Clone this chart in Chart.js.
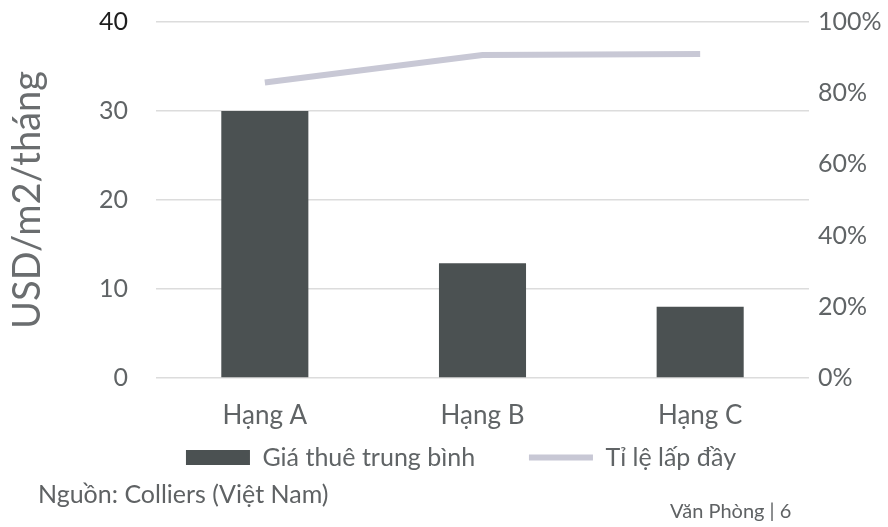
<!DOCTYPE html>
<html>
<head>
<meta charset="utf-8">
<script src="https://cdn.jsdelivr.net/npm/chart.js@4.4.0/dist/chart.umd.min.js"></script>
<style>
  html, body { margin: 0; padding: 0; background: #fff; }
  #wrap { position: relative; width: 888px; height: 527px; }
  .note { position: absolute; font-family: Lato, sans-serif; color: #5f6264; white-space: nowrap; }
  #source { left: 38px; top: 478px; font-size: 25px; }
  #page { left: 670px; top: 498px; font-size: 20px; }
</style>
</head>
<body>
<div id="wrap">
  <canvas id="officeChart" width="888" height="527"></canvas>
  <div class="note" id="source">Nguồn: Colliers (Việt Nam)</div>
  <div class="note" id="page">Văn Phòng | 6</div>
</div>
<script>
// Office market: average rent and occupancy by grade
const grades = ["Hạng A", "Hạng B", "Hạng C"];
const avgRent = [30, 12.9, 8];           // USD/m2/tháng
const occupancy = [0.83, 0.907, 0.91];   // share of floor space leased
const rentTicks = [0, 10, 20, 30, 40];
const occTicks = [0, 0.2, 0.4, 0.6, 0.8, 1];

const fontFamily = "Lato, sans-serif";
const textGrey = "#606466";
const leftPad = 34;

// keep the plot area flush with the layout padding
const noEdgePadding = (scale) => {
    scale.paddingTop = 0;
    scale.paddingBottom = 0;
};

const ctx = document.getElementById("officeChart").getContext("2d");
new Chart(ctx, {
    type: "bar",
    data: {
        labels: grades,
        datasets: [
            {
                type: "line",
                label: "Tỉ lệ lấp đầy",
                data: occupancy,
                yAxisID: "y1",
                borderColor: "#c8c8d5",
                backgroundColor: "#c8c8d5",
                borderWidth: 6,
                pointRadius: 0,
                pointStyle: "line",
                tension: 0,
                order: 1,
            },
            {
                label: "Giá thuê trung bình",
                data: avgRent,
                yAxisID: "y",
                backgroundColor: "#4b5152",
                borderWidth: 0,
                pointStyle: "rect",
                barPercentage: 0.8,
                categoryPercentage: 0.5,
                order: 2,
            },
        ],
    },
    options: {
        responsive: false,
        animation: false,
        layout: {
            padding: { top: 22, right: 0, bottom: 47, left: leftPad },
        },
        scales: {
            x: {
                grid: { display: false },
                border: { display: false },
                ticks: {
                    color: textGrey,
                    font: { family: fontFamily, size: 26 },
                    padding: 14,
                },
                afterFit: (scale) => {
                    scale.height = 58;
                },
            },
            y: {
                position: "left",
                min: 0,
                max: 40,
                afterBuildTicks: (scale) => {
                    scale.ticks = rentTicks.map((v) => ({ value: v }));
                },
                grid: { color: "#dcdcdc", lineWidth: 1.5, drawTicks: false },
                border: { display: false },
                ticks: {
                    color: (c) => (c.tick.value === 40 ? "#1e1e1e" : textGrey),
                    font: { family: fontFamily, size: 25 },
                    padding: 28,
                },
                title: {
                    display: true,
                    text: "USD/m2/tháng",
                    color: "#6a6d6f",
                    font: { family: fontFamily, size: 38 },
                    padding: { top: 5 - leftPad, bottom: 0 },
                },
                afterFit: (scale) => {
                    noEdgePadding(scale);
                    scale.width = 156 - leftPad;
                },
            },
            y1: {
                position: "right",
                min: 0,
                max: 1,
                afterBuildTicks: (scale) => {
                    scale.ticks = occTicks.map((v) => ({ value: v }));
                },
                grid: { display: false, drawTicks: false },
                border: { display: false },
                ticks: {
                    color: textGrey,
                    font: { family: fontFamily, size: 25 },
                    padding: 9,
                    callback: (v) => Math.round(v * 100) + "%",
                },
                afterFit: (scale) => {
                    noEdgePadding(scale);
                    scale.width = 79;
                },
            },
        },
        plugins: {
            legend: {
                position: "bottom",
                reverse: true,
                labels: {
                    usePointStyle: true,
                    pointStyleWidth: 64,
                    boxHeight: 15,
                    padding: 9,
                    color: textGrey,
                    font: { family: fontFamily, size: 25 },
                    // widen the gap after the rent entry without adding vertical space
                    generateLabels: (chart) =>
                        Chart.defaults.plugins.legend.labels
                            .generateLabels(chart)
                            .map((item) => {
                                if (item.datasetIndex === 1) {
                                    item.text = item.text + "       ";
                                }
                                return item;
                            }),
                },
            },
            tooltip: { enabled: false },
        },
    },
});
</script>
</body>
</html>
